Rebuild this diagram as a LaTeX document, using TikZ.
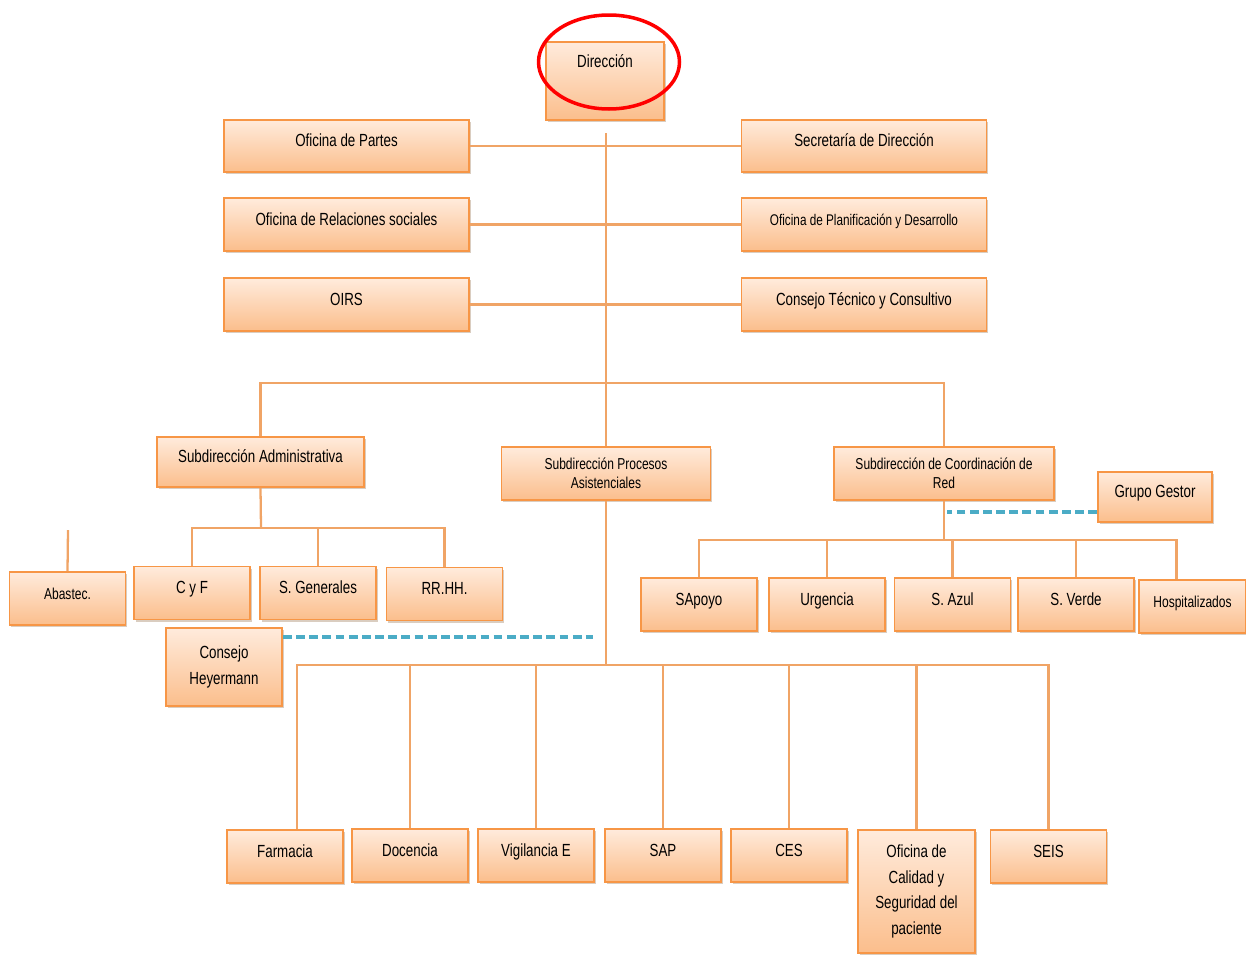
\documentclass[tikz,border=0pt]{standalone}
\usepackage{fontspec}
\setmainfont{Liberation Sans}[FakeStretch=0.76]
\usetikzlibrary{shapes.geometric, shadows}

\definecolor{boxline}{HTML}{F79646}
\definecolor{boxtop}{HTML}{FFEBDC}
\definecolor{boxbot}{HTML}{FBBE8C}
\definecolor{wirecol}{HTML}{F0A466}
\definecolor{linkcol}{HTML}{4BACC6}

\begin{document}
\begin{tikzpicture}[x=0.02cm, y=-0.02cm,
	unit/.style={draw=boxline, line width=1pt, top color=boxtop, bottom color=boxbot, inner sep=1pt,
		font=\fontsize{10}{12}\selectfont, align=center,
		drop shadow={shadow xshift=1pt, shadow yshift=-1.2pt, fill=brown!70!black, opacity=0.3}},
	lift/.style={text height=7pt, text depth=#1}, lift/.default=6pt,
	wideunit/.style={minimum width=4.9cm, minimum height=1.05cm},
	smallunit/.style={minimum width=2.32cm, minimum height=1.06cm},
	wire/.style={draw=wirecol, line width=1.3pt},
	link/.style={draw=linkcol, line width=2.6pt, dash pattern=on 5pt off 2.5pt}]
	\useasboundingbox (0,0) rectangle (1246,954);

	% direccion y staff
	\node[unit, lift=22pt, minimum width=2.36cm, minimum height=1.56cm] at (605,81) (dir) {Dirección};
	\node[draw=red, line width=2pt, ellipse, minimum width=2.82cm, minimum height=1.88cm] at (609,62) (mark) {};
	\node[unit, lift, wideunit] at (346.5,146) (partes) {Oficina de Partes};
	\node[unit, lift, wideunit] at (346.5,224.5) (relac) {Oficina de Relaciones sociales};
	\node[unit, lift, wideunit] at (346.5,304.5) (oirs) {OIRS};
	\node[unit, lift, wideunit] at (864,146) (secre) {Secretaría de Dirección};
	\node[unit, lift, wideunit, font=\fontsize{8.8}{10}\selectfont] at (864,224.5) (planif) {Oficina de Planificación y Desarrollo};
	\node[unit, lift, wideunit] at (864,304.5) (cons) {Consejo Técnico y Consultivo};

	% subdirecciones
	\node[unit, lift, minimum width=4.14cm, minimum height=1cm] at (260.5,462) (sadm) {Subdirección Administrativa};
	\node[unit, minimum width=4.18cm, minimum height=1.06cm, font=\fontsize{9}{11}\selectfont] at (606,473.5) (spa) {Subdirección Procesos\\Asistenciales};
	\node[unit, minimum width=4.4cm, minimum height=1.06cm, font=\fontsize{9}{11}\selectfont] at (944,473.5) (scr) {Subdirección de Coordinación de\\Red};
	\node[unit, lift, minimum width=2.28cm, minimum height=1cm] at (1155,497) (gestor) {Grupo Gestor};

	% administrativa
	\node[unit, lift, smallunit, font=\fontsize{9}{11}\selectfont] at (67.5,598.5) (abast) {Abastec.};
	\node[unit, lift, smallunit] at (192,593) (cyf) {C y F};
	\node[unit, lift, smallunit] at (318,593) (sgen) {S. Generales};
	\node[unit, lift, smallunit] at (444.5,594) (rrhh) {RR.HH.};
	\node[unit, smallunit, minimum height=1.56cm, font=\fontsize{10}{15}\selectfont] at (224,667) (heyer) {Consejo\\Heyermann};

	% coordinacion de red
	\node[unit, lift, smallunit] at (699,604.5) (sapoyo) {SApoyo};
	\node[unit, lift, smallunit] at (827,604.5) (urg) {Urgencia};
	\node[unit, lift, smallunit] at (952.5,604.5) (sazul) {S. Azul};
	\node[unit, lift, smallunit] at (1076,604.5) (sverde) {S. Verde};
	\node[unit, lift, smallunit, minimum width=2.14cm, font=\fontsize{9}{11}\selectfont] at (1192.5,606.5) (hosp) {Hospitalizados};

	% procesos asistenciales
	\node[unit, lift, smallunit] at (285,856.5) (farm) {Farmacia};
	\node[unit, lift, smallunit] at (410,855.5) (doc) {Docencia};
	\node[unit, lift, smallunit] at (536,855.5) (vig) {Vigilancia E};
	\node[unit, lift, smallunit] at (663,855.5) (sap) {SAP};
	\node[unit, lift, smallunit] at (789,855.5) (ces) {CES};
	\node[unit, minimum width=2.34cm, minimum height=2.46cm, font=\fontsize{10}{14.7}\selectfont] at (916.5,891.5) (calid) {Oficina de\\Calidad y\\Seguridad del\\paciente};
	\node[unit, lift, smallunit] at (1048.5,856.5) (seis) {SEIS};

	% lineas
	\coordinate (top) at (606,133);
	\coordinate (hubA) at (606,383);
	\coordinate (hubB) at (606,665);
	\coordinate (hubL) at (261,528);
	\coordinate (hubR) at (944,540);
	\coordinate (abTop) at (68,530);
	\draw[wire] (partes.east) -- (secre.west);
	\draw[wire] (relac.east) -- (planif.west);
	\draw[wire] (oirs.east) -- (cons.west);
	\draw[wire] (top) -- (hubA) -- (spa.north);
	\draw[wire] (sadm.north) |- (hubA) -| (scr.north);
	\draw[wire] (spa.south) -- (hubB);
	\draw[wire] ([xshift=0.24cm]farm.north) |- (hubB) -| (seis.north);
	\foreach \n in {doc,vig,sap,ces,calid}
		\draw[wire] (\n.north) -- (\n.north |- hubB);
	\draw[wire] (sadm.south) -- (hubL);
	\draw[wire] (cyf.north) |- (hubL) -| (rrhh.north);
	\draw[wire] (sgen.north) -- (sgen.north |- hubL);
	\draw[wire] (abast.north) -- (abTop);
	\draw[wire] (scr.south) -- (hubR);
	\draw[wire] (sapoyo.north) |- (hubR) -| ([xshift=-0.32cm]hosp.north);
	\foreach \n in {urg,sazul,sverde}
		\draw[wire] (\n.north) -- (\n.north |- hubR);

	% enlaces
	\coordinate (heyEnd) at (593,637);
	\coordinate (gesEnd) at (947,512);
	\draw[link] (heyer.east |- heyEnd) -- (heyEnd);
	\draw[link] (gestor.west |- gesEnd) -- (gesEnd);
\end{tikzpicture}
\end{document}
